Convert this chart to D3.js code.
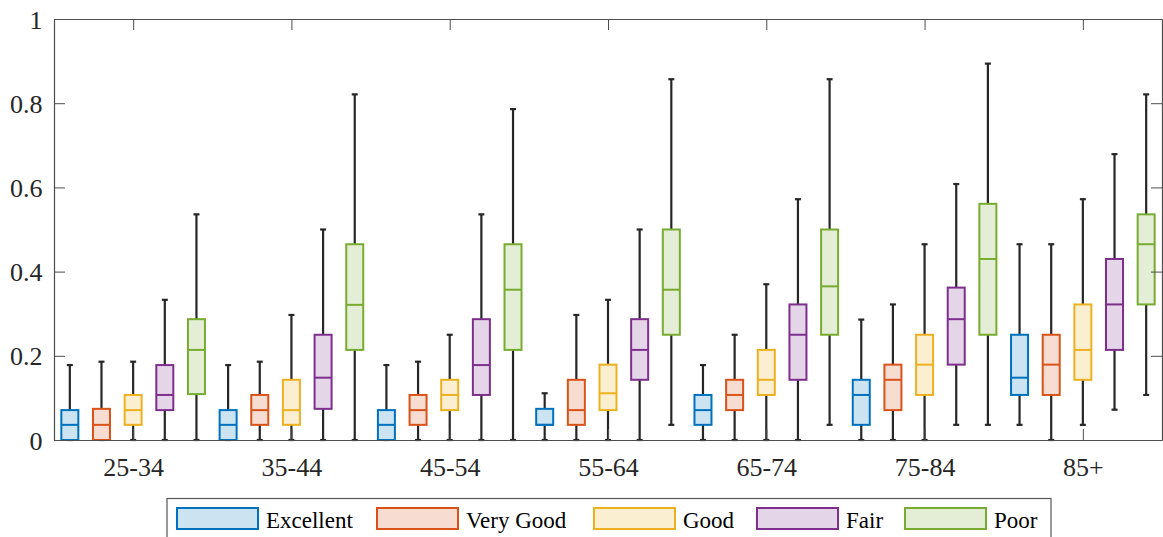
<!DOCTYPE html>
<html>
<head>
<meta charset="utf-8">
<script src="https://cdn.jsdelivr.net/npm/d3@7"></script>
</head>
<body style="margin:0">
<svg id="chart" width="1163" height="537"></svg>
<script>
// ---- data ----
const categories = ["25-34", "35-44", "45-54", "55-64", "65-74", "75-84", "85+"];
const seriesNames = ["Excellent", "Very Good", "Good", "Fair", "Poor"];
const seriesColors = ["#0072BD", "#D95319", "#EDB120", "#7E2F8E", "#77AC30"];
const yTicks = [0, 0.2, 0.4, 0.6, 0.8, 1];
const yTickLabels = ["0", "0.2", "0.4", "0.6", "0.8", "1"];

// each row: [lower whisker, q1, median, q3, upper whisker] per category
const excellentStats = [
  [0, 0, 0.036, 0.071, 0.178],
  [0, 0, 0.036, 0.071, 0.178],
  [0, 0, 0.036, 0.071, 0.178],
  [0, 0.036, 0.036, 0.074, 0.111],
  [0, 0.036, 0.071, 0.107, 0.178],
  [0, 0.036, 0.107, 0.143, 0.286],
  [0.036, 0.107, 0.148, 0.25, 0.465]
];
const veryGoodStats = [
  [0, 0, 0.036, 0.074, 0.186],
  [0, 0.036, 0.071, 0.107, 0.186],
  [0, 0.036, 0.071, 0.107, 0.186],
  [0, 0.036, 0.071, 0.143, 0.297],
  [0, 0.071, 0.107, 0.143, 0.25],
  [0, 0.071, 0.143, 0.179, 0.322],
  [0, 0.107, 0.179, 0.25, 0.465]
];
const goodStats = [
  [0, 0.036, 0.071, 0.107, 0.186],
  [0, 0.036, 0.071, 0.143, 0.297],
  [0, 0.071, 0.107, 0.143, 0.25],
  [0, 0.071, 0.111, 0.179, 0.333],
  [0, 0.107, 0.143, 0.214, 0.37],
  [0, 0.107, 0.179, 0.25, 0.465],
  [0.036, 0.143, 0.214, 0.322, 0.572]
];
const fairStats = [
  [0, 0.071, 0.107, 0.178, 0.333],
  [0, 0.074, 0.148, 0.25, 0.5],
  [0, 0.107, 0.178, 0.287, 0.536],
  [0, 0.143, 0.214, 0.287, 0.5],
  [0, 0.143, 0.25, 0.322, 0.572],
  [0.036, 0.179, 0.287, 0.362, 0.608],
  [0.072, 0.214, 0.322, 0.43, 0.679]
];
const poorStats = [
  [0, 0.109, 0.214, 0.287, 0.536],
  [0, 0.214, 0.321, 0.465, 0.821],
  [0, 0.214, 0.357, 0.465, 0.786],
  [0.036, 0.25, 0.357, 0.5, 0.857],
  [0.036, 0.25, 0.365, 0.5, 0.857],
  [0.036, 0.25, 0.43, 0.561, 0.894],
  [0.107, 0.322, 0.465, 0.536, 0.821]
];
const allStats = [excellentStats, veryGoodStats, goodStats, fairStats, poorStats];

// ---- layout ----
const FONT = '"Liberation Serif"';
const svg = d3.select("#chart");
const L = 54, R = 1162, T = 19, B = 440;
const x = d3.scaleLinear().domain([0.5, categories.length + 0.5]).range([L, R]);
const y = d3.scaleLinear().domain([0, 1]).range([B, T]);
const nS = seriesNames.length;
const slot = 1 / nS;
const boxW = 17;
const capW = 6;
const axisColor = "#4d4d4d";

function fillOf(c) {
  const rgb = d3.rgb(c);
  const a = 0.2;
  return d3.rgb(255 - (255 - rgb.r) * a, 255 - (255 - rgb.g) * a, 255 - (255 - rgb.b) * a).formatHex();
}

// ---- axes ----
const catTicks = categories.map((_, i) => i + 1);
const xAxisB = d3.axisBottom(x).tickValues(catTicks).tickFormat((d) => categories[d - 1]).tickSizeInner(-11).tickSizeOuter(0);
const xAxisT = d3.axisTop(x).tickValues(catTicks).tickFormat("").tickSizeInner(-11).tickSizeOuter(0);
const yAxisL = d3.axisLeft(y).tickValues(yTicks).tickFormat((d, i) => yTickLabels[i]).tickSizeInner(-11).tickSizeOuter(0);
const yAxisR = d3.axisRight(y).tickValues(yTicks).tickFormat("").tickSizeInner(-11).tickSizeOuter(0);

function styleAxis(g) {
  g.selectAll("path.domain").attr("stroke", axisColor).attr("stroke-width", 1.2);
  g.selectAll(".tick line").attr("stroke", axisColor).attr("stroke-width", 1);
  g.selectAll(".tick text").attr("fill", "#262626")
    .style("font-family", FONT).style("font-size", "26px");
}

const plot = svg.append("g");

const gxb = svg.append("g").attr("transform", `translate(0,${B})`).call(xAxisB).call(styleAxis);
gxb.selectAll(".tick text").attr("y", 36).attr("dy", 0);
const gxt = svg.append("g").attr("transform", `translate(0,${T})`).call(xAxisT).call(styleAxis);
const gyl = svg.append("g").attr("transform", `translate(${L},0)`).call(yAxisL).call(styleAxis);
gyl.selectAll(".tick text").attr("x", -11.5).attr("dy", 0).attr("y", 9);
const gyr = svg.append("g").attr("transform", `translate(${R},0)`).call(yAxisR).call(styleAxis);

// ---- boxes ----
allStats.forEach((stats, si) => {
  const col = seriesColors[si];
  const fill = fillOf(col);
  const g = plot.append("g").attr("class", "series-" + si);
  stats.forEach((s, ci) => {
    const [lo, q1, med, q3, hi] = s;
    const cx = x(ci + 1 + (si - (nS - 1) / 2) * slot);
    const gg = g.append("g");
    gg.append("line").attr("x1", cx).attr("x2", cx).attr("y1", y(q3)).attr("y2", y(hi))
      .attr("stroke", "#262626").attr("stroke-width", 2.2);
    gg.append("line").attr("x1", cx).attr("x2", cx).attr("y1", y(q1)).attr("y2", y(lo))
      .attr("stroke", "#262626").attr("stroke-width", 2.2);
    [lo, hi].forEach((v) => {
      gg.append("line").attr("x1", cx - capW / 2).attr("x2", cx + capW / 2).attr("y1", y(v)).attr("y2", y(v))
        .attr("stroke", "#262626").attr("stroke-width", 2.2);
    });
    gg.append("rect").attr("x", cx - boxW / 2).attr("width", boxW)
      .attr("y", y(q3)).attr("height", Math.max(0, y(q1) - y(q3)))
      .attr("fill", fill).attr("stroke", col).attr("stroke-width", 2);
    gg.append("line").attr("x1", cx - boxW / 2).attr("x2", cx + boxW / 2).attr("y1", y(med)).attr("y2", y(med))
      .attr("stroke", col).attr("stroke-width", 2);
  });
});

// ---- legend ----
const legend = svg.append("g");
legend.append("rect").attr("x", 167).attr("y", 498.5).attr("width", 884).attr("height", 60)
  .attr("fill", "#fff").attr("stroke", "#555").attr("stroke-width", 1.2);
const legendSwatchX = [177, 377, 594, 757, 905];
seriesNames.forEach((name, i) => {
  const sx = legendSwatchX[i];
  legend.append("rect").attr("x", sx).attr("y", 508).attr("width", 81).attr("height", 21)
    .attr("fill", fillOf(seriesColors[i])).attr("stroke", seriesColors[i]).attr("stroke-width", 2);
  legend.append("text")
    .attr("x", sx + 89).attr("y", 527.5)
    .style("font-family", FONT).style("font-size", "23px")
    .text(name);
});
</script>
</body>
</html>
